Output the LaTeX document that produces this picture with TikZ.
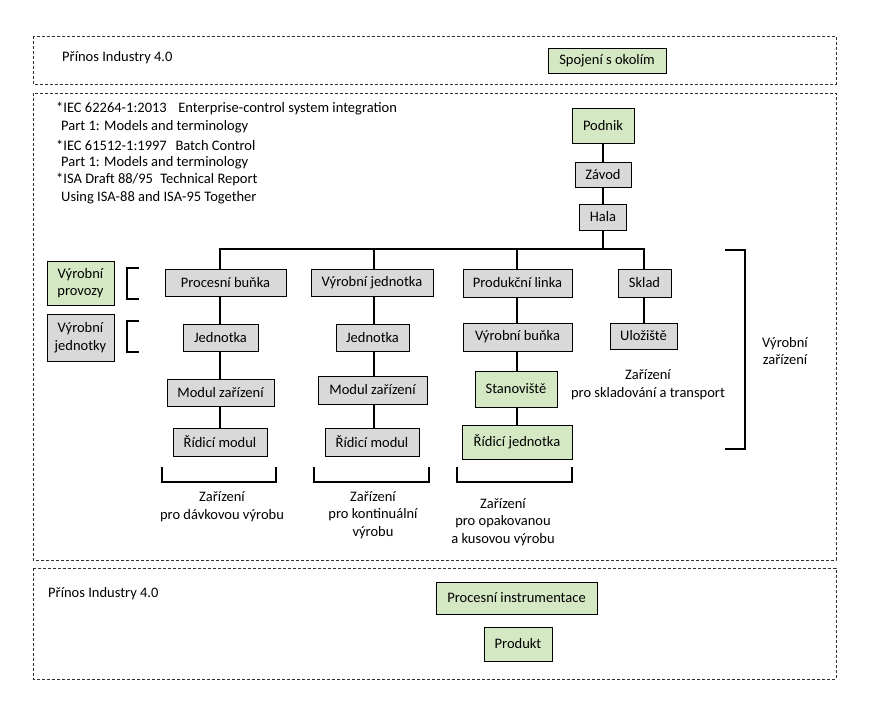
\documentclass[tikz,border=0pt]{standalone}
\usepackage{fontspec}
\setmainfont{Carlito}
\definecolor{boxgreen}{HTML}{D5E8C4}
\definecolor{boxgray}{HTML}{D9D9D9}
\definecolor{dashc}{HTML}{303030}
\begin{document}
\begin{tikzpicture}[x=1pt,y=-1pt,
  every node/.style={font=\fontsize{14.5}{17.6}\selectfont, inner sep=0pt},
  box/.style={draw=black, line width=0.8pt, fill=boxgray},
  gbox/.style={box, fill=boxgreen},
  conn/.style={line width=1.6pt},
  brk/.style={line width=2.4pt},
  zone/.style={draw=dashc, line width=0.8pt, dash pattern=on 3pt off 2pt},
  lbl/.style={align=center}]
\useasboundingbox (0,0) rectangle (873,707);
% zones
\draw[zone] (33,36) rectangle (836,84);
\draw[zone] (33,93) rectangle (836,560);
\draw[zone] (33,568) rectangle (836,679);
% zone texts
\node[anchor=west] (p1) at (62,58) {Přínos Industry 4.0};
\node[anchor=west] (p2) at (48,594) {Přínos Industry 4.0};
\node[gbox, minimum width=118pt, minimum height=25pt] (spoj) at (607,60.5) {Spojení s okolím};
\node[gbox, minimum width=161pt, minimum height=32pt] (pinst) at (516.5,598) {Procesní instrumentace};
\node[gbox, minimum width=68pt, minimum height=34pt] (prod) at (518,644) {Produkt};
% standards
\node[anchor=west] (s1) at (56,109) {*IEC 62264-1:2013\hspace{0.8em}Enterprise-control system integration};
\node[anchor=west] (s2) at (61,127) {Part 1:\hspace{0.3em}Models and terminology};
\node[anchor=west] (s3) at (56,145) {*IEC 61512-1:1997\hspace{0.6em}Batch Control};
\node[anchor=west] (s4) at (61,162.5) {Part 1:\hspace{0.3em}Models and terminology};
\node[anchor=west] (s5) at (56,180) {*ISA Draft 88/95\hspace{0.5em}Technical Report};
\node[anchor=west] (s6) at (61,198) {Using ISA-88 and ISA-95 Together};
% hierarchy top
\node[gbox, minimum width=62pt, minimum height=35pt] (podnik) at (603,125.5) {Podnik};
\node[box, minimum width=56pt, minimum height=25pt] (zavod) at (603,174.5) {Závod};
\node[box, minimum width=47pt, minimum height=26pt] (hala) at (603,217) {Hala};
% column 1
\node[box, minimum width=121pt, minimum height=27pt] (pb) at (225.5,282.5) {Procesní buňka};
\node[box, minimum width=75pt, minimum height=27pt] (j1) at (220.5,337.5) {Jednotka};
\node[box, minimum width=107pt, minimum height=27pt] (mz1) at (220.5,392.5) {Modul zařízení};
\node[box, minimum width=94pt, minimum height=28pt] (rm1) at (220,442) {Řídicí modul};
% column 2
\node[box, minimum width=122pt, minimum height=27pt] (vj) at (372,282.5) {Výrobní jednotka};
\node[box, minimum width=73pt, minimum height=27pt] (j2) at (372.5,337.5) {Jednotka};
\node[box, minimum width=109pt, minimum height=28pt] (mz2) at (372.5,390) {Modul zařízení};
\node[box, minimum width=94pt, minimum height=28pt] (rm2) at (372,442) {Řídicí modul};
% column 3
\node[box, minimum width=109pt, minimum height=28pt] (pl) at (517.5,283) {Produkční linka};
\node[box, minimum width=109pt, minimum height=28pt] (vb) at (517.5,337) {Výrobní buňka};
\node[gbox, minimum width=82pt, minimum height=36pt] (st) at (516,389) {Stanoviště};
\node[gbox, minimum width=110pt, minimum height=34pt] (rj) at (517,442) {Řídicí jednotka};
% column 4
\node[box, minimum width=53pt, minimum height=28pt] (sklad) at (644.5,283) {Sklad};
\node[box, minimum width=67pt, minimum height=26pt] (ul) at (643.5,336) {Uložiště};
% left legend boxes
\node[gbox, minimum width=67pt, minimum height=44pt, align=center] (vp) at (80.5,283) {Výrobní\\provozy};
\node[box, minimum width=67pt, minimum height=47pt, align=center] (vjk) at (80.5,337.5) {Výrobní\\jednotky};
% labels
\node[lbl] (lbatch) at (222,507) {Zařízení\\pro dávkovou výrobu};
\node[lbl] (lcont) at (373,515) {Zařízení\\pro kontinuální\\výrobu};
\node[lbl] (lrep) at (503,522) {Zařízení\\pro opakovanou\\a kusovou výrobu};
\node[lbl] (lstore) at (648,385) {Zařízení\\pro skladování a transport};
\node[lbl] (lvz) at (785,351) {Výrobní\\zařízení};
% connectors
\coordinate (c1) at (220,249);
\coordinate (c2) at (374,249);
\coordinate (c3) at (517,249);
\coordinate (c4) at (644,249);
\draw[conn] (podnik) -- (zavod);
\draw[conn] (zavod) -- (hala);
\draw[conn] (hala.south) -- (hala.south |- c1);
\draw[conn] (pb.north -| c1) -- (c1) -- (c4) -- (sklad.north -| c4);
\draw[conn] (c2) -- (vj.north -| c2);
\draw[conn] (c3) -- (pl.north -| c3);
\draw[conn] (pb.south -| c1) -- (j1.north -| c1);
\draw[conn] (j1.south -| c1) -- (mz1.north -| c1);
\draw[conn] (mz1.south -| c1) -- (rm1.north -| c1);
\draw[conn] (vj.south -| c2) -- (j2.north -| c2);
\draw[conn] (j2.south -| c2) -- (mz2.north -| c2);
\draw[conn] (mz2.south -| c2) -- (rm2.north -| c2);
\draw[conn] (pl.south -| c3) -- (vb.north -| c3);
\draw[conn] (vb.south -| c3) -- (st.north -| c3);
\draw[conn] (st.south -| c3) -- (rj.north -| c3);
\draw[conn] (sklad.south -| c4) -- (ul.north -| c4);
% brackets
\draw[brk] (139,268) -- (127,268) -- (127,299) -- (139,299);
\draw[brk] (139,321) -- (127,321) -- (127,352) -- (139,352);
\draw[brk] (162,467) -- (162,482) -- (276,482) -- (276,467);
\draw[brk] (314,467) -- (314,482) -- (429,482) -- (429,467);
\draw[brk] (457,467) -- (457,482) -- (572,482) -- (572,467);
\draw[brk] (725,250) -- (745,250) -- (745,449) -- (725,449);
\end{tikzpicture}
\end{document}
